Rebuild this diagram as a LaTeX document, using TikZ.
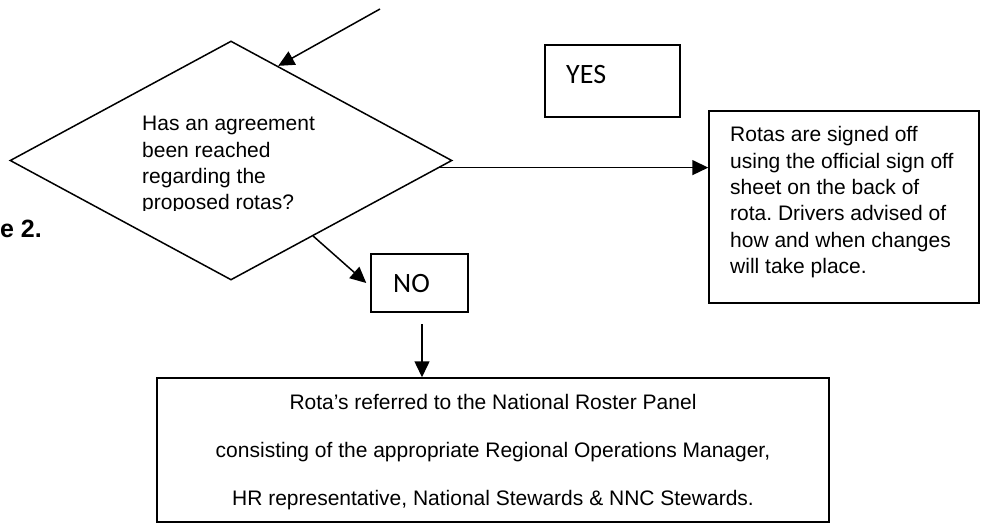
\documentclass[tikz,border=0pt]{standalone}
\usepackage{fontspec}
\setmainfont{Liberation Sans}
\newfontfamily\carlito{Carlito}
\usetikzlibrary{arrows.meta,shapes.geometric,calc}
\frenchspacing
\tikzset{
  line/.style={line width=1.5pt},
  arr/.style={line, -{Triangle[length=16pt,width=15pt]}},
  boxed/.style={draw, line width=1.5pt, inner sep=0pt},
  body/.style={font=\fontsize{21}{26.3}\selectfont, inner sep=0pt, align=left},
  answer/.style={font=\carlito\fontsize{28}{30}\selectfont, inner sep=0pt},
}
\begin{document}
\begin{tikzpicture}[x=1pt,y=-1pt]
\clip (0,0) rectangle (984,525);
\fill[white] (0,0) rectangle (984,525);

% decision diamond
\node[diamond, draw, line, inner sep=0pt, minimum width=442pt, minimum height=239pt] (dec) at (231,160.5) {};
\begin{scope}
  \clip (100,100) rectangle (360,210.5);
  \node[body, anchor=north west] (dectext) at (142,110.7)
    {\rule{0pt}{20pt}Has an agreement\\been reached\\regarding the\\proposed rotas?};
\end{scope}

% figure caption (cut at the page edge)
\node[font=\bfseries\fontsize{25}{27}\selectfont, inner sep=0pt, anchor=base east] (fig) at (42,237) {e 2.};

% YES label box
\node[boxed, minimum width=135pt, minimum height=72pt] (yes) at (612.5,81) {};
\node[answer, anchor=base west] (yestext) at (566,83.3) {YES};

% result box
\node[boxed, minimum width=270pt, minimum height=192pt] (rbox) at (844,207) {};
\node[body, anchor=north west] (rtext) at (730,121.7)
  {\rule{0pt}{20pt}Rotas are signed off\\using the official sign off\\sheet on the back of\\rota. Drivers advised of\\how and when changes\\will take place.};

% NO label box
\node[boxed, minimum width=97pt, minimum height=58pt] (no) at (419.5,283) {};
\node[answer, anchor=base west] (notext) at (393,292.7) {NO};

% panel box
\node[boxed, minimum width=672pt, minimum height=144pt] (bbox) at (493,450) {};
\node[font=\fontsize{21}{47.8}\selectfont, inner sep=0pt, align=center, anchor=north] (btext) at (493,389.3)
  {\rule{0pt}{20pt}Rota’s referred to the National Roster Panel\\consisting of the appropriate Regional Operations Manager,\\HR representative, National Stewards \& NNC Stewards.};

% connectors
\coordinate (in) at (380,9);
\draw[arr] (in) -- ($(dec.north)!0.213!(dec.east)$);
\coordinate (ys) at ($(dec.east)!0.059!(dec.south)$);
\draw[arr] (ys) -- (ys -| rbox.west);
\draw[arr] ($(dec.east)!0.629!(dec.south)$) -- ([xshift=-4pt]no.west);
\coordinate (vs) at (422,324);
\draw[arr] (vs) -- (vs |- bbox.north);
\end{tikzpicture}
\end{document}
